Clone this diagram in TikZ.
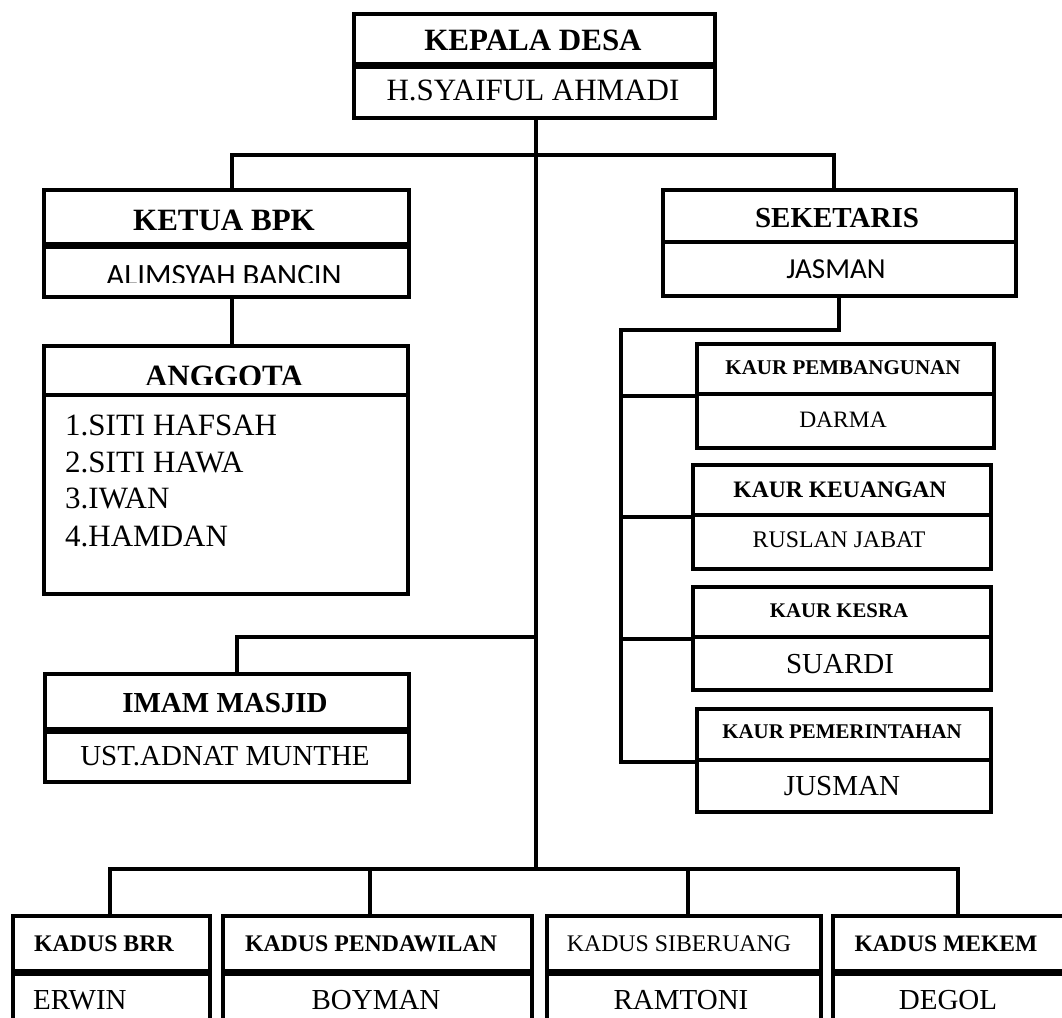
\documentclass[tikz,border=0pt]{standalone}
\usepackage{fontspec}
\setmainfont{Liberation Serif}
\newfontfamily\calib{Carlito}
\newcommand\setfs[1]{\fontsize{#1pt}{#1pt}\selectfont}
\tikzset{
  bx/.style={draw, line width=4pt, rectangle, inner sep=0pt, anchor=north west},
  con/.style={line width=4pt},
  thk/.style={line width=6.5pt},
  tx/.style={anchor=base, inner sep=0pt},
  txl/.style={anchor=base west, inner sep=0pt},
}
\begin{document}
\begin{tikzpicture}[x=1pt,y=-1pt]
\clip (0,0) rectangle (1062,1017);
\fill[white] (0,0) rectangle (1062,1017);

% ---------- boxes ----------
\node[bx, minimum width=361, minimum height=50] (kd)  at (352,12) {};
\node[bx, minimum width=361, minimum height=54] (kdn) at (352,62) {};
\node[bx, minimum width=365, minimum height=54] (kb)  at (42,188) {};
\node[bx, minimum width=365, minimum height=53] (kbn) at (42,242) {};
\node[bx, minimum width=364, minimum height=49] (ag)  at (42,344) {};
\node[bx, minimum width=364, minimum height=199] (agn) at (42,393) {};
\node[bx, minimum width=364, minimum height=55] (im)  at (43,672) {};
\node[bx, minimum width=364, minimum height=53] (imn) at (43,727) {};
\node[bx, minimum width=353, minimum height=52] (sk)  at (661,188) {};
\node[bx, minimum width=353, minimum height=54] (skn) at (661,240) {};
\node[bx, minimum width=297, minimum height=50] (k1)  at (695,342) {};
\node[bx, minimum width=297, minimum height=54] (k1n) at (695,392) {};
\node[bx, minimum width=298, minimum height=50] (k2)  at (691,463) {};
\node[bx, minimum width=298, minimum height=54] (k2n) at (691,513) {};
\node[bx, minimum width=298, minimum height=50] (k3)  at (691,585) {};
\node[bx, minimum width=298, minimum height=53] (k3n) at (691,635) {};
\node[bx, minimum width=294, minimum height=51] (k4)  at (695,707) {};
\node[bx, minimum width=294, minimum height=52] (k4n) at (695,758) {};
\node[bx, minimum width=197, minimum height=55] (d1)  at (11,914) {};
\node[bx, minimum width=197, minimum height=80] (d1n) at (11,969) {};
\node[bx, minimum width=309, minimum height=55] (d2)  at (221,914) {};
\node[bx, minimum width=309, minimum height=80] (d2n) at (221,969) {};
\node[bx, minimum width=274, minimum height=55] (d3)  at (545,914) {};
\node[bx, minimum width=274, minimum height=80] (d3n) at (545,969) {};
\node[bx, minimum width=250, minimum height=55] (d4)  at (831,914) {};
\node[bx, minimum width=250, minimum height=80] (d4n) at (831,969) {};

% thick dividers
\foreach \b in {kd,kb,im,d1,d2,d3,d4}
  \draw[thk] (\b.south west) -- (\b.south east);

% ---------- connectors ----------
\coordinate (jt)  at (536,155);
\coordinate (jl)  at (232,155);
\coordinate (jr)  at (834,155);
\coordinate (ji)  at (536,637);
\coordinate (jil) at (237,637);
\coordinate (jb)  at (536,869);
\coordinate (b1)  at (110,869);
\coordinate (b2)  at (370,869);
\coordinate (b3)  at (688,869);
\coordinate (b4)  at (958,869);
\coordinate (sa)  at (839,330);
\coordinate (sb)  at (621,330);

\draw[con] (jt |- kdn.south) -- (jb);
\draw[con] (jl |- kb.north) -- (jl) -- (jr) -- (jr |- sk.north);
\draw[con] (jl |- kbn.south) -- (jl |- ag.north);
\draw[con] (ji) -- (jil) -- (jil |- im.north);
\draw[con] (sa |- skn.south) -- (sa) -- (sb) -- (sb |- k4.south west) -- (k4.south west);
\draw[con] (sb |- k1.south west) -- (k1.south west);
\draw[con] (sb |- k2.south west) -- (k2.south west);
\draw[con] (sb |- k3.south west) -- (k3.south west);
\draw[con] (b1 |- d1.north) -- (b1) -- (b4) -- (b4 |- d4.north);
\draw[con] (b2) -- (b2 |- d2.north);
\draw[con] (b3) -- (b3 |- d3.north);

% ---------- texts ----------
\node[tx] (t1) at (533,50)  {\setfs{31}\bfseries KEPALA DESA};
\node[tx] (t2) at (533,100) {\setfs{31}H.SYAIFUL AHMADI};
\node[tx] (t3) at (224,230) {\setfs{31}\bfseries KETUA BPK};
\begin{scope}
  \clip (40,244) rectangle (405,282);
  \node[tx] (t4) at (224,285) {\setfs{31}\calib ALIMSYAH BANCIN};
\end{scope}
\begin{scope}
  \clip (40,346) rectangle (404,384);
  \node[tx] (t5) at (224,386) {\setfs{31}\bfseries ANGGOTA};
\end{scope}
\node[txl] (t6) at (65,435) {\setfs{31}1.SITI HAFSAH};
\node[txl] (t7) at (65,472) {\setfs{31}2.SITI HAWA};
\node[txl] (t8) at (65,508) {\setfs{31}3.IWAN};
\node[txl] (t9) at (65,546) {\setfs{31}4.HAMDAN};
\node[tx] (t10) at (225,712) {\setfs{29}\bfseries IMAM MASJID};
\node[tx] (t11) at (225,765) {\setfs{29}UST.ADNAT MUNTHE};
\node[tx] (t12) at (837,227) {\setfs{29}\bfseries SEKETARIS};
\node[tx] (t13) at (836,278) {\setfs{29}\calib JASMAN};
\node[tx] (t14) at (843,374) {\setfs{21}\bfseries KAUR PEMBANGUNAN};
\node[tx] (t15) at (843,427) {\setfs{23.5}DARMA};
\node[tx] (t16) at (840,497) {\setfs{23.6}\bfseries KAUR KEUANGAN};
\node[tx] (t17) at (839,547) {\setfs{23.8}RUSLAN JABAT};
\node[tx] (t18) at (839,617) {\setfs{20.8}\bfseries KAUR KESRA};
\node[tx] (t19) at (840,673) {\setfs{29}SUARDI};
\node[tx] (t20) at (842,738) {\setfs{20.9}\bfseries KAUR PEMERINTAHAN};
\node[tx] (t21) at (842,795) {\setfs{29}JUSMAN};
\node[txl] (t22) at (34,951) {\setfs{23.8}\bfseries KADUS BRR};
\node[txl] (t23) at (33,1009) {\setfs{29}ERWIN};
\node[tx] (t24) at (371,951) {\setfs{23.8}\bfseries KADUS PENDAWILAN};
\node[tx] (t25) at (376,1009) {\setfs{29}BOYMAN};
\node[tx] (t26) at (679,951) {\setfs{23.8}KADUS SIBERUANG};
\node[tx] (t27) at (681,1009) {\setfs{29}RAMTONI};
\node[tx] (t28) at (946,951) {\setfs{23.6}\bfseries KADUS MEKEM};
\node[tx] (t29) at (948,1009) {\setfs{29}DEGOL};
\end{tikzpicture}
\end{document}
